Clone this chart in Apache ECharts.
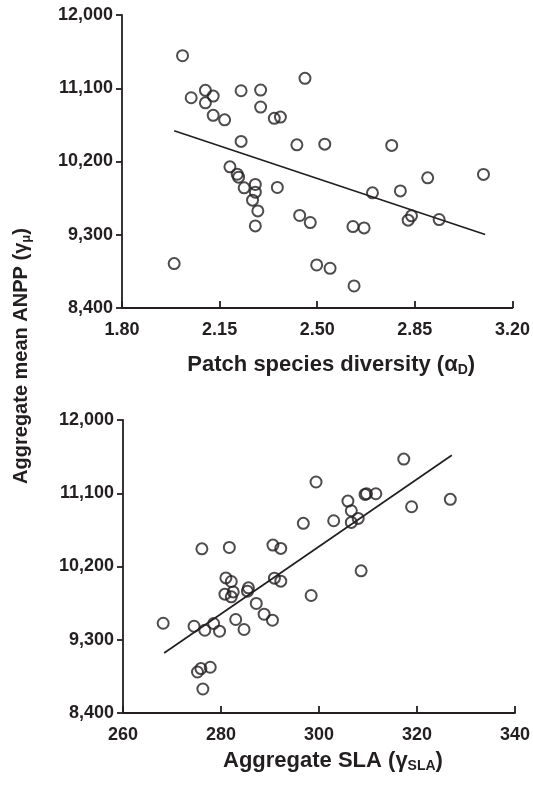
<!DOCTYPE html>
<html>
<head>
<meta charset="utf-8">
<script src="https://cdn.jsdelivr.net/npm/echarts@6/dist/echarts.min.js"></script>
<style>
html,body{margin:0;padding:0;background:#fff;}
#chart{width:533px;height:785px;}
</style>
</head>
<body>
<div id="chart"></div>
<script>
// ---- Data ----
// Top panel: patch species diversity (alpha_D) vs aggregate mean ANPP
var diversityX = [2.017,2.456,2.048,2.099,2.127,2.099,2.227,2.297,2.297,2.127,2.168,2.346,2.368,2.227,2.427,2.527,2.187,2.213,2.218,2.278,2.238,2.278,2.357,2.268,2.287,2.437,2.475,2.278,1.987,2.498,2.546,2.767,2.896,2.698,2.798,2.838,2.826,2.937,2.628,2.668,2.632,3.096];
var diversityY = [11500,11222,10983,11074,11004,10921,11069,11078,10869,10767,10712,10730,10746,10447,10405,10413,10134,10044,10008,9918,9876,9823,9881,9725,9593,9537,9450,9409,8946,8929,8888,10398,9999,9815,9839,9532,9479,9487,9401,9384,8671,10041];
var diversityFitX = [1.987, 3.102];
var diversityFitY = [10577, 9303];

// Bottom panel: aggregate SLA vs aggregate mean ANPP
var slaX = [268.2,274.5,276.7,278.5,279.7,276.1,281.7,281.0,282.1,280.8,282.5,282.1,283.0,284.7,285.6,285.4,287.2,288.8,290.5,290.6,292.2,290.9,292.2,298.4,296.8,299.4,303.0,275.2,275.9,277.8,276.3,305.9,306.6,306.6,308.0,309.4,309.7,311.6,317.3,318.9,326.8,308.6];
var slaY = [9503,9466,9417,9500,9405,10417,10434,10060,10016,9860,9888,9827,9549,9426,9938,9897,9746,9614,9540,10463,10422,10057,10020,9844,10730,11238,10762,8904,8946,8962,8695,11004,10885,10742,10791,11086,11094,11094,11520,10934,11025,10147];
var slaFitX = [268.4, 327.1];
var slaFitY = [9138, 11566];

// Tick settings
var anppTicks = {min: 8400, max: 12000, interval: 900};
var diversityTicks = {min: 1.80, max: 3.20, interval: 0.35};
var slaTicks = {min: 260, max: 340, interval: 20};

// ---- Styling ----
var INK = '#231f20';
var FONT = '"Liberation Sans", Arial, sans-serif';

function pairs(xs, ys){ return xs.map(function(x,i){ return [x, ys[i]]; }); }

function yAxisCfg(gridIndex){
  return {
    gridIndex: gridIndex, type: 'value',
    min: anppTicks.min, max: anppTicks.max, interval: anppTicks.interval,
    axisLine: {show: true, lineStyle: {color: INK, width: 1.8}},
    axisTick: {show: true, inside: false, length: 6, lineStyle: {color: INK, width: 1.8}},
    splitLine: {show: false},
    axisLabel: {
      color: INK, fontFamily: FONT, fontWeight: 'bold', fontSize: 18, margin: 9,
      formatter: function(v){ return v.toLocaleString('en-US'); }
    }
  };
}

function xAxisCfg(gridIndex, ticks, decimals, nameRich, gap){
  return {
    gridIndex: gridIndex, type: 'value',
    min: ticks.min, max: ticks.max, interval: ticks.interval,
    axisLine: {show: true, onZero: false, lineStyle: {color: INK, width: 1.8}},
    axisTick: {show: true, inside: true, length: 7, lineStyle: {color: INK, width: 1.8}},
    splitLine: {show: false},
    axisLabel: {
      color: INK, fontFamily: FONT, fontWeight: 'bold', fontSize: 18, margin: 13,
      formatter: function(v){ return v.toFixed(decimals); }
    },
    name: nameRich.text,
    nameLocation: 'middle',
    nameGap: gap,
    nameTextStyle: {
      color: INK, fontFamily: FONT, fontWeight: 'bold', fontSize: 22,
      padding: [0, 0, 0, 28],
      rich: nameRich.rich
    }
  };
}

var mainRich = {color: INK, fontFamily: FONT, fontWeight: 'bold', fontSize: 22};
var subRich = {color: INK, fontFamily: FONT, fontWeight: 'bold', fontSize: 14, padding: [10,0,0,0]};

var chart = echarts.init(document.getElementById('chart'), null, {renderer: 'canvas'});

var scatterStyle = {
  color: 'rgba(0,0,0,0)', borderColor: INK, borderWidth: 2
};

chart.setOption({
  backgroundColor: '#ffffff',
  animation: false,
  grid: [
    {left: 122, top: 15, width: 393, height: 293},
    {left: 123, top: 420, width: 392, height: 293}
  ],
  xAxis: [
    xAxisCfg(0, diversityTicks, 2, {
      text: '{a|Patch species diversity (α}{s|D}{a|)}',
      rich: {a: mainRich, s: subRich}
    }, 45),
    xAxisCfg(1, slaTicks, 0, {
      text: '{a|Aggregate SLA (γ}{s|SLA}{a|)}',
      rich: {a: mainRich, s: subRich}
    }, 36)
  ],
  yAxis: [yAxisCfg(0), yAxisCfg(1)],
  graphic: [{
    type: 'text',
    x: 21, y: 356,
    rotation: Math.PI / 2,
    style: {
      text: '{a|Aggregate mean ANPP (γ}{s|μ}{a|)}',
      align: 'center', verticalAlign: 'middle',
      rich: {a: {fill: INK, fontFamily: FONT, fontWeight: 'bold', fontSize: 20},
             s: {fill: INK, fontFamily: FONT, fontWeight: 'bold', fontSize: 13, padding: [10,0,0,0]}}
    }
  }],
  series: [
    {
      type: 'scatter', xAxisIndex: 0, yAxisIndex: 0,
      symbol: 'circle', symbolSize: 11,
      itemStyle: scatterStyle,
      data: pairs(diversityX, diversityY), z: 3
    },
    {
      type: 'line', xAxisIndex: 0, yAxisIndex: 0,
      symbol: 'none', lineStyle: {color: INK, width: 1.7},
      data: pairs(diversityFitX, diversityFitY), z: 2
    },
    {
      type: 'scatter', xAxisIndex: 1, yAxisIndex: 1,
      symbol: 'circle', symbolSize: 11,
      itemStyle: scatterStyle,
      data: pairs(slaX, slaY), z: 3
    },
    {
      type: 'line', xAxisIndex: 1, yAxisIndex: 1,
      symbol: 'none', lineStyle: {color: INK, width: 1.7},
      data: pairs(slaFitX, slaFitY), z: 2
    }
  ]
});
</script>
</body>
</html>
